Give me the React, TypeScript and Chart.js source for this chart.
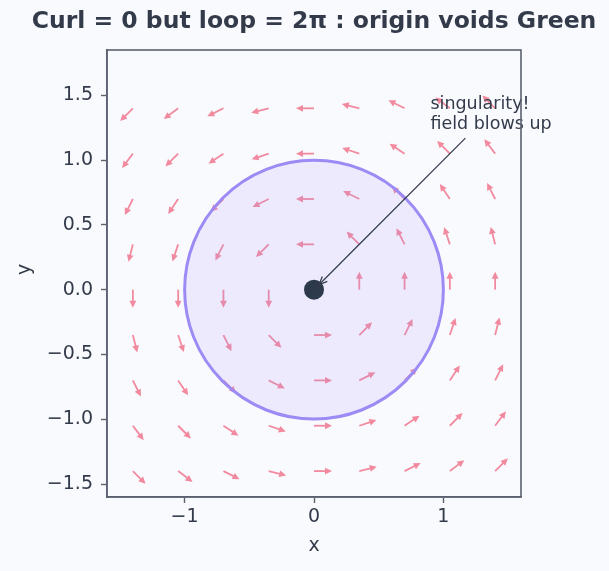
import React, { useEffect, useRef } from "react";
import { Chart, registerables } from "chart.js";

Chart.register(...registerables);

// Quiver grid (9 x 9, origin skipped)
const gridX = [-1.4, -1.05, -0.7, -0.35, 0, 0.35, 0.7, 1.05, 1.4];
const gridY = [-1.4, -1.05, -0.7, -0.35, 0, 0.35, 0.7, 1.05, 1.4];
const xTicks = [-1, 0, 1];
const yTicks = [-1.5, -1.0, -0.5, 0.0, 0.5, 1.0, 1.5];
const loopRadius = 1;
const singularity = [0, 0];
const annotationText = ["singularity!", "field blows up"];
const annotationTextPos = [0.9, 1.5];
const annotationArrowStart = [1.17, 1.17];
const titleText = "Curl = 0 but loop = 2π : origin voids Green";
const xLabel = "x";
const yLabel = "y";

const BG = "#f9fafd";
const SPINE = "#5c6170";
const TEXT = "#333b4b";
const ARROW = "#f28a9f";
const FONT = "'DejaVu Sans', sans-serif";

const fmtMinus = (v: number, d: number) => {
  const s = Math.abs(v).toFixed(d);
  return v < 0 ? "\u2212" + s : s;
};

const drawPlugin = {
  id: "quiverDraw",
  beforeDatasetsDraw(chart: any) {
    const ctx = chart.ctx;
    const xs = chart.scales.x;
    const ys = chart.scales.y;
    const ca = chart.chartArea;
    ctx.save();
    ctx.beginPath();
    ctx.rect(ca.left, ca.top, ca.right - ca.left, ca.bottom - ca.top);
    ctx.clip();
    // quiver arrows: irrotational vortex field (-y, x)/r^2, direction only
    const L = 18;
    const headL = 7;
    const headW = 3.4;
    ctx.strokeStyle = ARROW;
    ctx.fillStyle = ARROW;
    ctx.lineWidth = 1.8;
    for (const gx of gridX) {
      for (const gy of gridY) {
        if (Math.abs(gx) < 1e-9 && Math.abs(gy) < 1e-9) continue;
        const u = -gy;
        const v = gx;
        const n = Math.hypot(u, v);
        const dx = u / n;
        const dy = -v / n; // pixel space
        const px = xs.getPixelForValue(gx);
        const py = ys.getPixelForValue(gy);
        const tx = px + dx * L;
        const ty = py + dy * L;
        ctx.beginPath();
        ctx.moveTo(px, py);
        ctx.lineTo(tx - dx * headL * 0.8, ty - dy * headL * 0.8);
        ctx.stroke();
        ctx.beginPath();
        ctx.moveTo(tx, ty);
        ctx.lineTo(tx - dx * headL - dy * headW, ty - dy * headL + dx * headW);
        ctx.lineTo(tx - dx * headL + dy * headW, ty - dy * headL - dx * headW);
        ctx.closePath();
        ctx.fill();
      }
    }
    // circle
    const cx = xs.getPixelForValue(0);
    const cy = ys.getPixelForValue(0);
    const r = xs.getPixelForValue(loopRadius) - cx;
    ctx.beginPath();
    ctx.arc(cx, cy, r, 0, Math.PI * 2);
    ctx.fillStyle = "rgba(162,150,250,0.15)";
    ctx.fill();
    ctx.strokeStyle = "#9c8af5";
    ctx.lineWidth = 3;
    ctx.stroke();
    // singularity dot
    const sx = xs.getPixelForValue(singularity[0]);
    const sy = ys.getPixelForValue(singularity[1]);
    ctx.beginPath();
    ctx.arc(sx, sy, 10, 0, Math.PI * 2);
    ctx.fillStyle = "#2d3a4b";
    ctx.fill();
    // annotation arrow
    const ax = xs.getPixelForValue(annotationArrowStart[0]);
    const ay = ys.getPixelForValue(annotationArrowStart[1]);
    const ang = Math.atan2(sy - ay, sx - ax);
    const dist = Math.hypot(sx - ax, sy - ay) - 7;
    const ex = ax + Math.cos(ang) * dist;
    const ey = ay + Math.sin(ang) * dist;
    ctx.strokeStyle = "#333b4b";
    ctx.lineWidth = 1.3;
    ctx.beginPath();
    ctx.moveTo(ax, ay);
    ctx.lineTo(ex, ey);
    ctx.stroke();
    const hl = 9, ha = 0.4;
    ctx.beginPath();
    ctx.moveTo(ex - Math.cos(ang - ha) * hl, ey - Math.sin(ang - ha) * hl);
    ctx.lineTo(ex, ey);
    ctx.lineTo(ex - Math.cos(ang + ha) * hl, ey - Math.sin(ang + ha) * hl);
    ctx.stroke();
    ctx.restore();
    // annotation text (not clipped)
    ctx.save();
    ctx.fillStyle = TEXT;
    ctx.font = `17.5px ${FONT}`;
    ctx.textAlign = "left";
    ctx.textBaseline = "alphabetic";
    const tx0 = xs.getPixelForValue(annotationTextPos[0]);
    const ty0 = ys.getPixelForValue(annotationTextPos[1]);
    annotationText.forEach((line, i) => {
      ctx.fillText(line, tx0, ty0 + 14 + i * 20);
    });
    ctx.restore();
  },
  afterDraw(chart: any) {
    const ctx = chart.ctx;
    const ca = chart.chartArea;
    ctx.save();
    ctx.strokeStyle = SPINE;
    ctx.lineWidth = 1.6;
    ctx.strokeRect(ca.left, ca.top, ca.right - ca.left, ca.bottom - ca.top);
    ctx.fillStyle = TEXT;
    ctx.font = `bold 23.5px ${FONT}`;
    ctx.textAlign = "center";
    ctx.textBaseline = "middle";
    ctx.fillText(titleText, (ca.left + ca.right) / 2, 22);
    ctx.font = `19px ${FONT}`;
    ctx.fillText(xLabel, (ca.left + ca.right) / 2, 546);
    ctx.translate(25, (ca.top + ca.bottom) / 2 - 4);
    ctx.rotate(-Math.PI / 2);
    ctx.fillText(yLabel, 0, 0);
    ctx.restore();
  },
};

export default function App() {
  const ref = useRef<HTMLCanvasElement>(null);
  useEffect(() => {
    document.body.style.margin = "0";
    document.body.style.background = BG;
    const chart = new Chart(ref.current!, {
      type: "scatter",
      data: { datasets: [{ data: [], pointRadius: 0 }] },
      options: {
        animation: false,
        responsive: false,
        events: [],
        layout: { padding: { top: 50, right: 88, left: 0, bottom: 0 } },
        plugins: { legend: { display: false }, tooltip: { enabled: false } },
        scales: {
          x: {
            type: "linear",
            min: -1.6,
            max: 1.6,
            afterBuildTicks: (s: any) => {
              s.ticks = xTicks.map((v) => ({ value: v }));
            },
            afterFit: (s: any) => {
              s.height = 74;
            },
            ticks: {
              color: TEXT,
              font: { family: FONT, size: 19 },
              padding: 3,
              maxRotation: 0,
              callback: (v: any) => fmtMinus(Number(v), 0),
            },
            grid: { drawOnChartArea: false, tickLength: 6, tickColor: SPINE, tickWidth: 1.4 },
            border: { color: SPINE, width: 1.6 },
          },
          y: {
            type: "linear",
            min: -1.6,
            max: 1.85,
            afterBuildTicks: (s: any) => {
              s.ticks = yTicks.map((v) => ({ value: v }));
            },
            afterFit: (s: any) => {
              s.width = 107;
            },
            ticks: {
              color: TEXT,
              font: { family: FONT, size: 19 },
              padding: 8,
              callback: (v: any) => fmtMinus(Number(v), 1),
            },
            grid: { drawOnChartArea: false, tickLength: 6, tickColor: SPINE, tickWidth: 1.4 },
            border: { color: SPINE, width: 1.6 },
          },
        },
      },
      plugins: [drawPlugin],
    });
    return () => chart.destroy();
  }, []);
  return (
    <div style={{ width: 609, height: 571, background: BG }}>
      <canvas ref={ref} width={609} height={571} style={{ display: "block" }} />
    </div>
  );
}
